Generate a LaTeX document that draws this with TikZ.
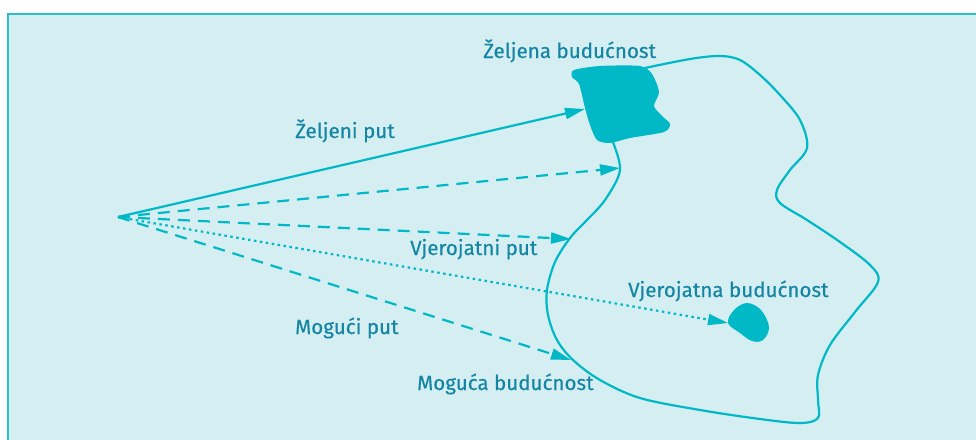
\documentclass[tikz,border=0pt]{standalone}
\usepackage{fontspec}
\setmainfont{Fira Sans}
\newfontfamily\lblfont{Fira Sans}[FakeBold=0.35]
\usetikzlibrary{arrows.meta}
\definecolor{bg}{RGB}{213,238,242}
\definecolor{cy}{RGB}{0,184,198}
\definecolor{frm}{RGB}{40,192,204}
\definecolor{txt}{RGB}{20,134,164}
\tikzset{
  conn/.style={cy, line width=2.2pt, -{Triangle[length=20pt,width=11pt]}},
  dashconn/.style={conn, dash pattern=on 12pt off 8pt},
  dotconn/.style={conn, dash pattern=on 2.5pt off 3.5pt},
  lbl/.style={txt, font=\lblfont\fontsize{20.6}{20.6}\selectfont, anchor=base west, inner sep=0pt},
  region/.style={cy, line width=2.2pt},
  blob/.style={fill=cy, draw=none}
}
\begin{document}
\begin{tikzpicture}[x=1pt,y=-1pt]
\useasboundingbox (0,0) rectangle (976,439);
\fill[bg] (8,14) rectangle (980,445);
\draw[frm, line width=2pt] (8,445) -- (8,14) -- (980,14);
% region outline
\draw[region] plot[smooth, tension=0.55] coordinates {
 (612,140) (620,170) (605,200) (585,222) (570,238) (555,262) (547,290) (548,315)
 (557,340) (573,360) (600,380) (640,398) (700,410) (760,419) (800,423) (818,418)
 (818,400) (818,375) (830,345) (855,312) (878,282) (870,265) (840,242) (807,220)
 (780,203) (777,190) (790,170) (807,148) (800,120) (780,95) (760,75) (740,60)
 (720,56) (690,59) (645,68)};
% blobs
\fill[blob] plot[smooth cycle, tension=0.45] coordinates {
 (574,70) (600,66) (640,66) (652,74) (659,92) (654,106) (662,116) (670,124) (664,132)
 (630,138) (610,143) (597,140) (590,125) (585,108) (579,84) (572,77)};
\fill[blob] plot[smooth cycle, tension=0.6] coordinates {
 (728,323) (734,310) (747,303) (761,310) (769,327) (763,340) (752,341) (740,333)};
% points
\coordinate (O) at (118,217);
\coordinate (zb) at (585,109);
\coordinate (e1) at (620,168);
\coordinate (e2) at (571,239);
\coordinate (vb) at (728,323);
\coordinate (mb) at (571,360);
\draw[conn] (O) -- (zb);
\draw[dashconn] (O) -- (e1);
\draw[dashconn] (O) -- (e2);
\draw[dotconn] (O) -- (vb);
\draw[dashconn] (O) -- (mb);
% labels
\node[lbl] (tzb) at (483,58) {Željena budućnost};
\node[lbl] (tzp) at (295,138) {Željeni put};
\node[lbl] (tvp) at (410,255) {Vjerojatni put};
\node[lbl] (tvb) at (628,297) {Vjerojatna budućnost};
\node[lbl] (tmp) at (295,334) {Mogući put};
\node[lbl] (tmb) at (417,390) {Moguća budućnost};
\end{tikzpicture}
\end{document}
